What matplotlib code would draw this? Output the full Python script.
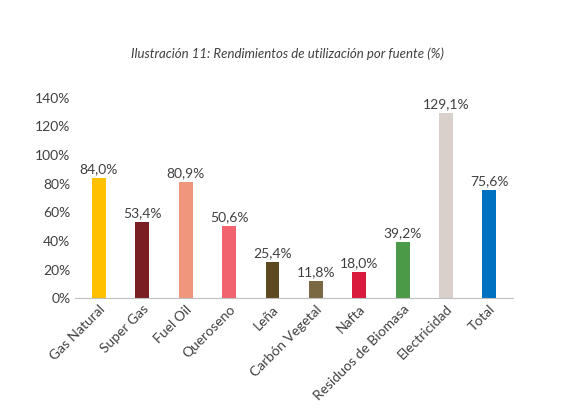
import matplotlib.pyplot as plt
import numpy as np

fuentes = ["Gas Natural", "Super Gas", "Fuel Oil", "Queroseno", "Leña",
           "Carbón Vegetal", "Nafta", "Residuos de Biomasa", "Electricidad", "Total"]
rendimiento = [84.0, 53.4, 80.9, 50.6, 25.4, 11.8, 18.0, 39.2, 129.1, 75.6]
colores = ["#FFC000", "#7B1E22", "#F0967C", "#F0636F", "#5E4A20",
           "#7A6843", "#D91A3C", "#4A9A48", "#D9D0CC", "#0070C0"]

plt.rcParams['font.family'] = ['Lato', 'DejaVu Sans']
fig = plt.figure(figsize=(5.74, 4.13), dpi=100)
ax = fig.add_axes([0.131, 0.278, 0.763, 0.485])

x = np.arange(len(fuentes))
ax.bar(x, rendimiento, width=0.32, color=colores)
for xi, v in zip(x, rendimiento):
    ax.text(xi, v + 2, f"{v:.1f}%".replace(".", ","), ha="center", va="bottom",
            fontsize=10, color="#404040")

ax.set_ylim(0, 140)
ax.set_xlim(-0.55, len(fuentes) - 0.45)
ax.set_yticks(range(0, 141, 20))
ax.set_yticklabels([f"{t}%" for t in range(0, 141, 20)], fontsize=10, color="#404040")
ax.set_xticks(x)
ax.set_xticklabels(fuentes, rotation=45, ha="right", rotation_mode="anchor",
                   fontsize=10, color="#404040")
ax.tick_params(length=0)
for s in ["top", "right", "left"]:
    ax.spines[s].set_visible(False)
ax.spines["bottom"].set_color("#BFBFBF")

fig.text(0.5, 0.86, "Ilustración 11: Rendimientos de utilización por fuente (%)",
         ha="center", fontsize=9.5, style="italic", color="#404040")

fig.savefig("out.png", dpi=100)
